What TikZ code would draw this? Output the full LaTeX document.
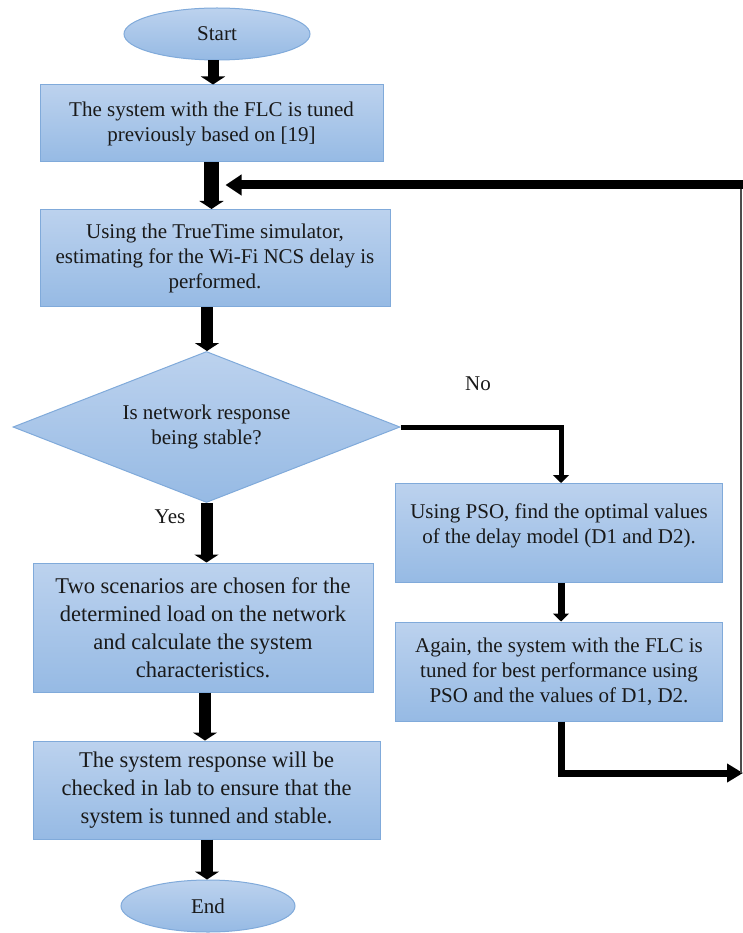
\documentclass[tikz,border=0pt]{standalone}
\usepackage{fontspec}
\setmainfont{Liberation Serif}
\newfontfamily\tnr{Liberation Serif}
\usetikzlibrary{shapes.geometric,arrows.meta,calc}
\definecolor{boxtop}{RGB}{188,210,238}
\definecolor{boxbot}{RGB}{150,186,228}
\definecolor{bordc}{RGB}{128,170,218}
\definecolor{txt}{RGB}{25,25,25}
\newcommand\fsA{\tnr\fontsize{21}{25}\selectfont}
\newcommand\fsB{\tnr\fontsize{22.5}{28}\selectfont}
\tikzset{
  box/.style={rectangle, draw=bordc, line width=1pt, top color=boxtop, bottom color=boxbot,
    align=center, inner sep=0pt, text=txt, font=\fsA},
  oval/.style={ellipse, draw=bordc, line width=1pt, top color=boxtop, bottom color=boxbot,
    inner sep=0pt, text=txt, font=\fsA},
  decision/.style={diamond, draw=bordc, line width=1pt, top color=boxtop, bottom color=boxbot,
    inner sep=0pt, align=center, text=txt, font=\fsA},
  lbl/.style={text=txt, font=\fsA},
  bigarrow/.style={line width=12pt, -{Triangle[length=8pt,width=24pt]}},
  smallarrow/.style={line width=7pt, -{Triangle[length=8pt,width=16pt]}},
  noline/.style={line width=5pt, -{Triangle[length=8pt,width=16pt]}},
  fbarrow/.style={line width=9pt, -{Triangle[length=16pt,width=20pt]}},
  retarrow/.style={line width=7pt, -{Triangle[length=16pt,width=18pt]}},
  thinline/.style={line width=1.6pt, draw=black!70},
}
\begin{document}
\begin{tikzpicture}[x=1pt,y=-1pt]
\useasboundingbox (0,0) rectangle (743,933);
\node[oval, minimum width=186pt, minimum height=52pt] (start) at (217,34) {Start};
\node[box, minimum width=343pt, minimum height=77pt] (b1) at (211.5,123.5)
  {The system with the FLC is tuned\\previously based on [19]};
\node[box, minimum width=350pt, minimum height=97pt] (b2) at (215,258)
  {Using the TrueTime simulator,\\estimating for the Wi-Fi NCS delay is\\performed.};
\node[decision, minimum width=387pt, minimum height=151pt, aspect=2.56] (d) at (206.5,427)
  {Is network response\\being stable?};
\node[box, font=\fsB, minimum width=340pt, minimum height=129pt] (b3) at (203,627.5)
  {Two scenarios are chosen for the\\determined load on the network\\and calculate the system\\characteristics.};
\node[box, font=\fsB, minimum width=347pt, minimum height=98pt] (b4) at (206.5,790)
  {The system response will be\\checked in lab to ensure that the\\system is tunned and stable.};
\node[oval, minimum width=174pt, minimum height=52pt] (end) at (208,906) {End};
\node[box, minimum width=327pt, minimum height=99pt, text depth=18pt] (p1) at (559,533)
  {Using PSO, find the optimal values\\of the delay model (D1 and D2).};
\node[box, minimum width=327pt, minimum height=99pt] (p2) at (559,671.5)
  {Again, the system with the FLC is\\tuned for best performance using\\PSO and the values of D1, D2.};
\node[lbl] (no) at (478,384) {No};
\node[lbl] (yes) at (170,517) {Yes};
\coordinate (fbR) at (741,773);
\coordinate (fbT) at (741,185);
% main flow
\draw[bigarrow, line width=11pt] ([xshift=-4pt]start.south) -- ([xshift=-4pt]start.south |- b1.north);
\draw[bigarrow, line width=15pt] (b1.south) -- (b1.south |- b2.north);
\draw[bigarrow] ([xshift=-8pt]b2.south) -- ([xshift=-8pt]b2.south |- d.north);
\draw[bigarrow] (d.south) -- (d.south |- b3.north);
\draw[bigarrow] ([xshift=2pt]b3.south) -- ([xshift=2pt]b3.south |- b4.north);
\draw[bigarrow] ([xshift=0.5pt]b4.south) -- ([xshift=0.5pt]b4.south |- end.north);
% no branch
\draw[noline] (d.east) -| ([xshift=2pt]p1.north);
\draw[smallarrow] ([xshift=2pt]p1.south) -- ([xshift=2pt]p2.north);
% feedback
\draw[retarrow] ([xshift=2pt]p2.south) |- ([xshift=2pt]fbR);
\draw[thinline] (fbR) -- (fbT);
\draw[fbarrow] ([xshift=4pt]fbT) -- ([xshift=14pt]b1.south |- fbT);
\end{tikzpicture}
\end{document}
